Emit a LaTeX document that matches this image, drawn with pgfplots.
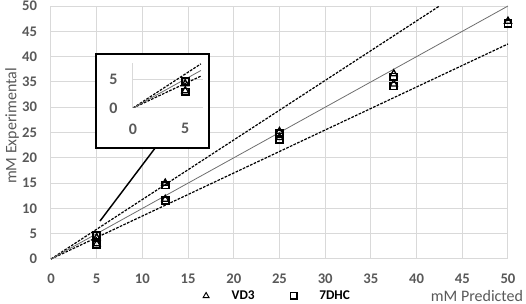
\documentclass[border=0pt]{standalone}
\usepackage{fontspec}
\setmainfont{Carlito}
\usepackage{pgfplots}
\pgfplotsset{compat=1.18}
\definecolor{tickgray}{HTML}{595959}
\definecolor{gridgray}{HTML}{D9D9D9}
\definecolor{linegray}{HTML}{6E6E6E}
\begin{document}
\begin{tikzpicture}
\useasboundingbox (-38.25pt,-33.75pt) rectangle (356.25pt,194.25pt);
\begin{axis}[at={(0pt,0pt)}, anchor=south west, scale only axis,
  width=342.75pt, height=189.75pt,
  xmin=0, xmax=50, ymin=0, ymax=50,
  xtick={0,5,...,50}, ytick={0,5,...,50},
  grid=major, major grid style={gridgray, line width=0.75pt},
  axis line style={draw=none}, tick style={draw=none},
  /pgf/number format/assume math mode=true,
  tick label style={font=\fontsize{11}{13}\selectfont\bfseries, text=tickgray},
  xticklabel style={yshift=-8pt},
  yticklabel style={xshift=-7pt},
  legend style={at={(axis description cs:0.495,-0.146)}, anchor=center, draw=none, fill=none,
    legend columns=2, font=\fontsize{10}{12}\selectfont\bfseries,
    /tikz/every even column/.append style={column sep=24pt}},
  clip=false]
\addplot[black, dash pattern=on 2pt off 1pt, line width=0.9pt, forget plot] coordinates {(0,0) (42.5,50)};
\addplot[black, dash pattern=on 2pt off 1pt, line width=0.9pt, forget plot] coordinates {(0,0) (50,42.5)};
\addplot[linegray, line width=0.6pt, forget plot] coordinates {(0,0) (50,50)};
\addplot[only marks, mark=triangle, mark size=3pt, mark options={line width=1pt, draw=black},
  legend image code/.code={\path (-3pt,0pt) (17pt,0pt); \draw[only marks, mark=triangle, mark size=2.6pt, mark options={line width=0.7pt, draw=black}] plot coordinates {(0pt,0pt)};}] coordinates {
(5,4.2) (5,3.0) (12.5,15.0) (12.5,11.8) (25,25.2) (25,24.0) (37.5,36.6) (37.5,34.6) (50,47.0)};
\addlegendentry{VD3}
\addplot[only marks, mark=square, mark size=2.6pt, mark options={line width=1.3pt, draw=black},
  legend image code/.code={\path (-3pt,0pt) (17pt,0pt); \draw[only marks, mark=square, mark size=2.4pt, mark options={line width=1.1pt, draw=black}] plot coordinates {(0pt,0pt)};}] coordinates {
(5,4.6) (5,2.8) (12.5,14.6) (12.5,11.5) (25,24.8) (25,23.6) (37.5,36.0) (37.5,34.2) (50,46.6)};
\addlegendentry{7DHC}
\draw[line width=1.4pt, fill=white] (axis cs:4.92,21.9) rectangle (axis cs:17.3,40.5);
\draw[line width=1.1pt] (axis cs:5.36,7.5) -- (axis cs:11.38,21.9);
\end{axis}
\begin{axis}[at={(61.5pt,113.25pt)}, anchor=south west, scale only axis,
  width=52.5pt, height=33.75pt,
  xmin=0, xmax=6.7, ymin=0, ymax=7.8,
  xtick={0,5}, ytick={0,5},
  ymajorgrids, major grid style={gridgray, line width=0.75pt},
  axis x line=bottom, axis y line=left,
  axis line style={gridgray, line width=0.75pt, -}, tick style={draw=none},
  /pgf/number format/assume math mode=true,
  tick label style={font=\fontsize{12}{14}\selectfont\bfseries, text=tickgray},
  xticklabel style={yshift=-6pt},
  yticklabel style={xshift=-6pt},
  clip=true]
\addplot[black, dash pattern=on 2pt off 1pt, line width=0.9pt] coordinates {(0,0) (6.5,7.65)};
\addplot[black, dash pattern=on 2pt off 1pt, line width=0.9pt] coordinates {(0,0) (6.5,5.525)};
\addplot[linegray, line width=0.6pt] coordinates {(0,0) (6.5,6.5)};
\addplot[only marks, mark=triangle, mark size=3pt, mark options={line width=1pt, draw=black}] coordinates {(5,4.2) (5,3.0)};
\addplot[only marks, mark=square, mark size=2.6pt, mark options={line width=1.3pt, draw=black}] coordinates {(5,4.6) (5,2.8)};
\end{axis}
\node[rotate=90, font=\fontsize{12}{14}\selectfont, text=tickgray] at (-29.25pt,99.75pt) {mM Experimental};
\node[font=\fontsize{12}{14}\selectfont, text=tickgray] at (319.5pt,-27.75pt) {mM Predicted};
\end{tikzpicture}
\end{document}
